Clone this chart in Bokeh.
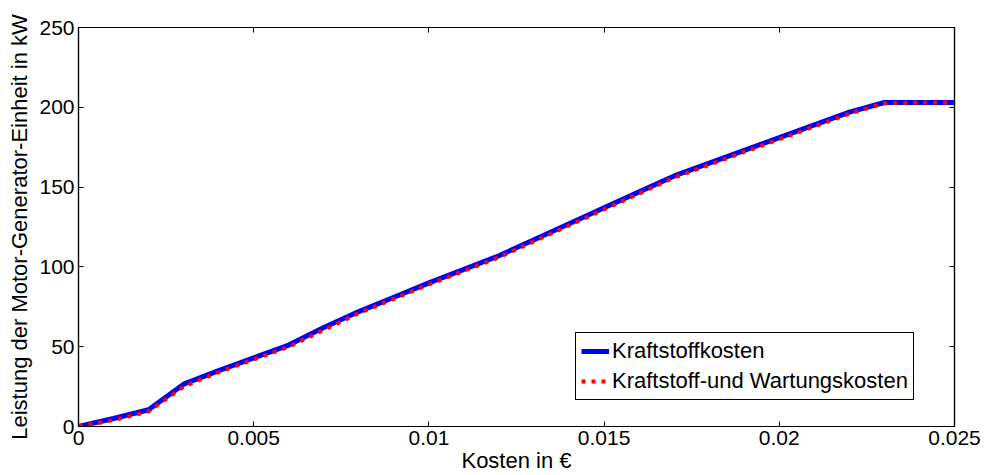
from bokeh.plotting import figure
from bokeh.models import LinearAxis, FixedTicker, CustomJSTickFormatter, Legend, LegendItem, Range1d
from bokeh.embed import file_html
from bokeh.resources import INLINE

# Data
kosten = [0.0, 0.001, 0.002, 0.003, 0.004, 0.005, 0.006, 0.007, 0.008, 0.009, 0.010,
          0.011, 0.012, 0.013, 0.014, 0.015, 0.016, 0.017, 0.018, 0.019, 0.020,
          0.021, 0.022, 0.023, 0.024, 0.025]
leistung_kraftstoff = [0, 5, 10.5, 26.5, 35, 43, 51, 62, 72, 81, 90,
                       98.5, 107, 117, 127, 137, 147, 157, 165, 173, 181,
                       189, 197, 203, 203, 203]
leistung_wartung = [0, 4, 9.5, 25, 34, 42, 50, 60.5, 71, 80, 89,
                    97.5, 106, 116, 126, 136, 146, 156, 164, 172, 180,
                    188, 196, 202.5, 203, 203]
x_ticks = [0, 0.005, 0.01, 0.015, 0.02, 0.025]
y_ticks = [0, 50, 100, 150, 200, 250]

FONT = "Liberation Sans"

p = figure(width=986, height=475, output_backend="svg", toolbar_location=None,
           x_range=Range1d(0, 0.025), y_range=Range1d(0, 250),
           min_border_left=78, min_border_right=32, min_border_top=27, min_border_bottom=48)
p.xgrid.visible = False
p.ygrid.visible = False
p.outline_line_color = "black"
p.outline_line_width = 1.2
p.outline_line_alpha = 1
p.background_fill_color = "white"

fmt = CustomJSTickFormatter(code="return tick.toFixed(3).replace(/0+$/,'').replace(/\\.$/,'');")
blank = CustomJSTickFormatter(code="return '';")

def style(ax):
    ax.major_tick_in = 5
    ax.major_tick_out = 0
    ax.minor_tick_in = 0
    ax.minor_tick_out = 0
    ax.axis_line_color = "black"
    ax.axis_line_width = 1.2
    ax.major_tick_line_color = "black"
    ax.major_label_text_font = FONT
    ax.major_label_text_font_size = "21px"
    ax.major_label_text_color = "black"

p.xaxis.ticker = FixedTicker(ticks=x_ticks)
p.xaxis.formatter = fmt
p.yaxis.ticker = FixedTicker(ticks=y_ticks)
style(p.xaxis[0])
style(p.yaxis[0])
p.xaxis.major_label_standoff = 4
p.yaxis.major_label_standoff = 4
p.xaxis.axis_label = "Kosten in €"
p.yaxis.axis_label = "Leistung der Motor-Generator-Einheit in kW"
for ax in (p.xaxis[0], p.yaxis[0]):
    ax.axis_label_text_font = FONT
    ax.axis_label_text_font_size = "22px"
    ax.axis_label_text_font_style = "normal"
    ax.axis_label_text_color = "black"
p.xaxis.axis_label_standoff = 0
p.yaxis.axis_label_standoff = 4

top = LinearAxis(ticker=FixedTicker(ticks=x_ticks), formatter=blank)
style(top)
top.major_label_standoff = 0
p.add_layout(top, "above")
right = LinearAxis(ticker=FixedTicker(ticks=y_ticks), formatter=blank)
style(right)
right.major_label_standoff = 0
p.add_layout(right, "right")

r1 = p.line(kosten, leistung_kraftstoff, line_color="#0000ff", line_width=5)
r2 = p.line(kosten, leistung_wartung, line_color="#ff0000", line_width=4, line_dash="4 6")

legend = Legend(items=[LegendItem(label="Kraftstoffkosten", renderers=[r1]),
                       LegendItem(label="Kraftstoff-und Wartungskosten", renderers=[r2])],
                location=(497, 26))
legend.border_line_color = "black"
legend.border_line_alpha = 1
legend.border_line_width = 1
legend.background_fill_color = "white"
legend.background_fill_alpha = 1
legend.label_text_font = FONT
legend.label_text_font_size = "22px"
legend.label_text_color = "black"
legend.glyph_width = 28
legend.glyph_height = 22
legend.label_height = 22
legend.label_standoff = 3
legend.padding = 5
legend.spacing = 4
legend.margin = 0
p.add_layout(legend, "center")

open("out.html", "w").write(file_html(p, INLINE))
